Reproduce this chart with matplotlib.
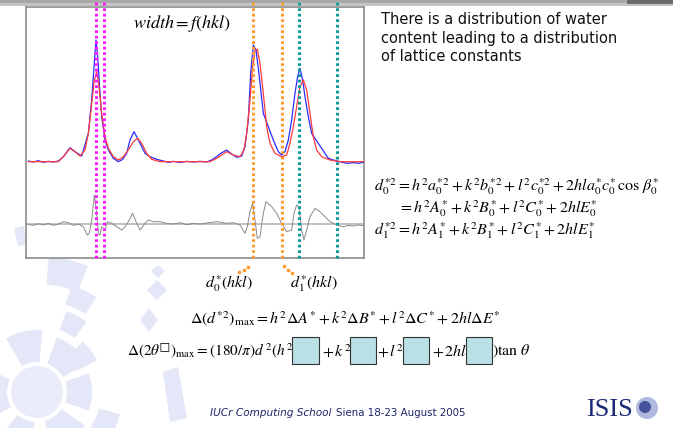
import numpy as np
import matplotlib
matplotlib.use("Agg")
import matplotlib.pyplot as plt
from matplotlib.patches import Rectangle, Wedge, Polygon

plt.rcParams['mathtext.fontset'] = 'stix'

# observed profile (blue): channel, counts
obs_x = [85, 100, 115, 130, 145, 160, 175, 190, 210, 225, 245, 265, 275, 282, 288,
         293, 298, 305, 315, 325, 340, 355, 368, 380, 390, 402, 410, 420, 435, 450,
         470, 490, 505, 520, 540, 560, 580, 600, 620, 635, 650, 662, 680, 695, 710,
         725, 735, 745, 752, 760, 768, 778, 790, 805, 820, 835, 845, 855, 865, 875,
         885, 893, 900, 908, 915, 925, 935, 945, 955, 965, 975, 985, 1000, 1020,
         1040, 1060, 1075, 1090]
obs_y = [297, 294, 298, 293, 296, 294, 297, 310, 337, 325, 312, 380, 480, 580, 660,
         610, 530, 430, 360, 330, 305, 295, 302, 320, 360, 385, 370, 350, 320, 310,
         302, 297, 293, 296, 293, 296, 294, 296, 294, 300, 310, 320, 330, 318, 308,
         312, 340, 420, 560, 645, 630, 550, 440, 400, 360, 325, 315, 325, 360, 420,
         500, 550, 575, 540, 490, 430, 380, 365, 350, 335, 320, 305, 300, 295,
         290, 292, 290, 293]

# calculated profile (red)
calc_x = [85, 175, 190, 210, 225, 240, 255, 265, 275, 283, 290, 297, 305, 315, 325,
          340, 355, 370, 385, 400, 413, 425, 440, 455, 480, 630, 650, 680, 700, 720,
          732, 740, 750, 758, 765, 772, 780, 790, 800, 810, 825, 845, 860, 870, 880,
          890, 900, 910, 920, 930, 940, 950, 965, 990, 1020, 1090]
calc_y = [295, 295, 310, 335, 325, 312, 330, 380, 470, 540, 565, 520, 440, 370, 335,
          310, 300, 310, 330, 355, 365, 350, 320, 302, 295, 295, 305, 325, 315, 310,
          330, 380, 480, 580, 630, 632, 590, 500, 400, 350, 320, 310, 315, 350, 400,
          460, 520, 540, 510, 440, 370, 330, 310, 300, 295, 295]

# difference curve (grey), drawn around its own zero line
diff_x = [85, 100, 115, 130, 145, 160, 175, 190, 205, 220, 235, 250, 262, 268, 275,
          283, 290, 295, 300, 305, 315, 322, 335, 350, 365, 375, 385, 398, 408, 420,
          435, 445, 460, 480, 500, 520, 540, 560, 580, 600, 620, 650, 680, 700, 720,
          735, 742, 750, 758, 765, 772, 780, 790, 798, 815, 830, 845, 860, 875, 882,
          890, 897, 905, 912, 920, 930, 945, 960, 975, 990, 1010, 1030, 1045, 1060,
          1075, 1090]
diff_y = [0, -3, 2, -2, 3, -3, 1, 8, 5, -3, 1, -7, -32, -27, 13,
          88, 33, -27, -32, -7, -17, 8, 3, -7, -17, -7, 8, 33, 8, -17,
          3, 13, 8, 8, 3, 1, 5, -1, 3, 1, 4, 8, 3, 5, -2,
          -27, -7, 38, 63, 13, -42, -37, 33, 68, 53, 33, 3, -22, -17, 33,
          58, 53, -17, -47, -17, 23, 48, 38, 23, 8, -2, -7, -3, -5,
          -2, -4]
diff_zero = 107

# reflection markers
magenta_pos = [289, 313]
orange_pos = [758, 845]
teal_pos = [897, 1012]

W, H = 673, 428
fig = plt.figure(figsize=(W / 100, H / 100), dpi=100)

# slide background in pixel coordinates
bg = fig.add_axes([0, 0, 1, 1])
bg.set_xlim(0, W)
bg.set_ylim(H, 0)
bg.axis('off')

bg.add_patch(Rectangle((0, 0), W, 6, color='#c4c4c4', lw=0))
bg.add_patch(Rectangle((0, 0), W, 3, color='#a8a8a8', lw=0))
bg.add_patch(Rectangle((627, 0), W - 627, 4, color='#6c6c6c', lw=0))

# faint watermark of the logo at lower left
wm = '#e3e7f7'
c0 = (37, 392)
for t1, t2, r1, r2 in [(240, 275, 30, 62), (290, 330, 30, 58), (340, 20, 30, 55),
                       (35, 75, 30, 58), (95, 130, 30, 55), (150, 205, 30, 58),
                       (312, 332, 45, 68), (290, 305, 66, 86), (288, 302, 92, 112),
                       (275, 292, 108, 136), (130, 150, 62, 84), (15, 35, 64, 86)]:
    bg.add_patch(Wedge(c0, r2, t1, t2, width=r2 - r1, color=wm, lw=0))
bg.add_patch(Wedge(c0, 26, 0, 360, color='#eaedf9', lw=0))
bg.add_patch(Polygon([(149, 308), (158, 320), (149, 332), (140, 320)], color=wm, lw=0))
bg.add_patch(Polygon([(157, 280), (167, 290), (157, 300), (147, 290)], color=wm, lw=0))
bg.add_patch(Polygon([(158, 265), (165, 271), (158, 278), (151, 271)], color=wm, lw=0))
bg.add_patch(Polygon([(14, 228), (24, 226), (26, 245), (18, 246)], color=wm, lw=0))
bg.add_patch(Polygon([(163, 372), (178, 367), (187, 418), (170, 422)], color=wm, lw=0))

# main chart
ax = fig.add_axes([25.7 / W, 1 - 257.7 / H, (364.3 - 25.7) / W, (257.7 - 7.3) / H])
ax.set_xlim(77, 1093)
ax.set_ylim(7, 758)
ax.set_xticks([])
ax.set_yticks([])
for s in ax.spines.values():
    s.set_color('#8c8c8c')
    s.set_linewidth(1.2)

ax.axhline(diff_zero, color='#b8b8b8', lw=1.2, zorder=1)
ax.plot(obs_x, obs_y, color='#2b2bff', lw=0.9, zorder=3)
ax.plot(calc_x, calc_y, color='#ff3b3b', lw=0.9, zorder=4)
ax.plot(diff_x, np.array(diff_y) + diff_zero, color='#8a8a8a', lw=0.7, zorder=2)

for pos, col in [(magenta_pos, '#ff1aff'), (orange_pos, '#ff9b2e'), (teal_pos, '#0f9b9b')]:
    for p in pos:
        ax.axvline(p, ymin=0, ymax=1.027, color=col, lw=2.2, ls=(0, (0.9, 0.9)),
                   clip_on=False, zorder=5)

ax.text(0.462, 0.935, r'$width = f\left(hkl\right)$', transform=ax.transAxes,
        ha='center', va='center', fontsize=13)

# right hand text
bg.text(381, 38, 'There is a distribution of water\ncontent leading to a distribution\nof lattice constants',
        ha='left', va='center', fontsize=10.5, linespacing=1.3, family='DejaVu Sans', color='#111111')

eq = 11.5
bg.text(374, 187, r'$d_0^{*2} = h^2 a_0^{*2} + k^2 b_0^{*2} + l^2 c_0^{*2} + 2hla_0^{*}c_0^{*}\,\cos\,\beta_0^{*}$',
        ha='left', va='center', fontsize=eq)
bg.text(398, 209, r'$= h^2 A_0^{*} + k^2 B_0^{*} + l^2 C_0^{*} + 2hlE_0^{*}$',
        ha='left', va='center', fontsize=eq)
bg.text(374, 231, r'$d_1^{*2} = h^2 A_1^{*} + k^2 B_1^{*} + l^2 C_1^{*} + 2hlE_1^{*}$',
        ha='left', va='center', fontsize=eq)

# bottom equations
bg.text(205, 284, r'$d_0^{*}\left(hkl\right)$', ha='left', va='center', fontsize=eq)
bg.text(290, 284, r'$d_1^{*}\left(hkl\right)$', ha='left', va='center', fontsize=eq)
bg.plot([239, 243.5, 248], [272, 269.5, 267], ls='none', marker='s', ms=1.8, color='#ff9b2e')
bg.plot([284, 288, 292], [266, 269.5, 273], ls='none', marker='s', ms=1.8, color='#ff9b2e')

bg.text(190, 319, r'$\Delta\left(d^{*2}\right)_{\max} = h^2\Delta A^{*} + k^2\Delta B^{*} + l^2\Delta C^{*} + 2hl\Delta E^{*}$',
        ha='left', va='center', fontsize=eq)

ey = 351
bg.text(293, ey, '$\\Delta\\left(2\\theta^{\u25a1}\\right)_{\\max} = \\left(180/\\pi\\right)d^{\\,2}\\left(h^2\\right.$',
        ha='right', va='center', fontsize=11)
bg.text(351, ey, r'$+\,k^2$', ha='right', va='center', fontsize=eq)
bg.text(404, ey, r'$+\,l^2$', ha='right', va='center', fontsize=eq)
bg.text(467, ey, r'$+\,2hl$', ha='right', va='center', fontsize=eq)
bg.text(492, ey, r'$\left.\right)\tan\,\theta$', ha='left', va='center', fontsize=eq)
for x0, x1 in [(291.7, 319.3), (350, 376), (402.7, 429), (465.7, 492.3)]:
    bg.add_patch(Rectangle((x0, 337), x1 - x0, 26.5, facecolor='#b9e0e4',
                           edgecolor='#333333', lw=0.8, zorder=5))

# footer
bg.text(210, 413, 'IUCr Computing School', ha='left', va='center', fontsize=7.6,
        style='italic', family='DejaVu Sans', color='#1c2566')
bg.text(336.5, 413, 'Siena 18-23 August 2005', ha='left', va='center', fontsize=7.4,
        family='DejaVu Sans', color='#1c2566')
bg.text(586, 410, 'ISIS', ha='left', va='center', fontsize=19, family='Liberation Serif',
        color='#1c2a78')
bg.add_patch(Wedge((647, 408), 11, 0, 360, color='#7a8ac8', lw=0, alpha=0.6))
bg.add_patch(Wedge((645, 407), 6, 0, 360, color='#2a3a8c', lw=0, alpha=0.8))

fig.savefig('out.png', dpi=100)
